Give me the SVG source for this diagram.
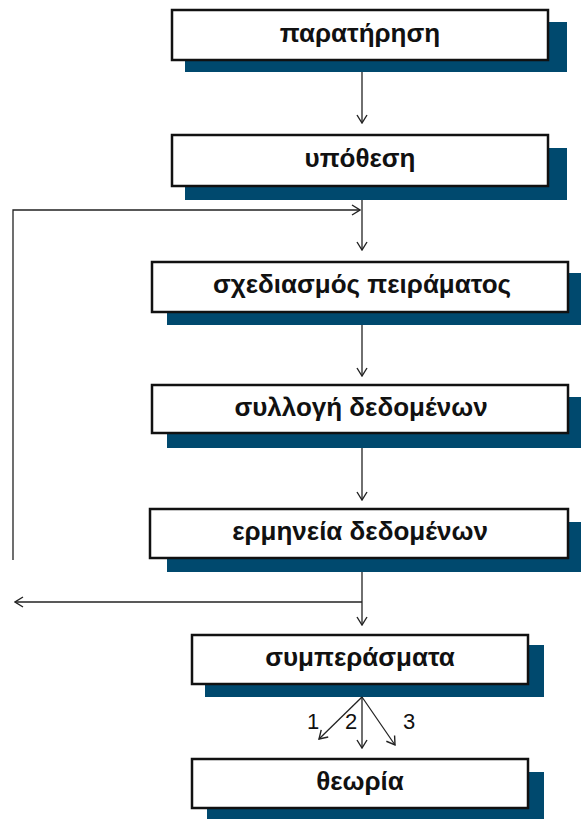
<svg xmlns="http://www.w3.org/2000/svg" width="581" height="819" viewBox="0 0 581 819">
<defs>
<style>
.box{fill:#fff;stroke:#111;stroke-width:2.5}
.sh{fill:#00496e}
.lbl{font-family:"Liberation Sans",Arial,sans-serif;font-weight:bold;font-size:26px;fill:#111;text-anchor:middle}
.num{font-family:"Liberation Sans",Arial,sans-serif;font-size:22px;fill:#111;text-anchor:middle}
.ln{fill:none;stroke:#222;stroke-width:1.3}
</style>
<marker id="ah" viewBox="0 0 10 12" refX="9" refY="6" markerWidth="10" markerHeight="12" markerUnits="userSpaceOnUse" orient="auto">
<path d="M1,1 L9,6 L1,11" fill="none" stroke="#222" stroke-width="1.4"/>
</marker>
</defs>
<rect width="581" height="819" fill="#fff"/>
<g id="n1">
<rect class="sh" x="185" y="22" width="382" height="50"/>
<rect class="box" x="172" y="10" width="376" height="50"/>
<text class="lbl" x="360" y="42">παρατήρηση</text>
</g>
<g id="n2">
<rect class="sh" x="185" y="148" width="382" height="52"/>
<rect class="box" x="172" y="135" width="376" height="51"/>
<text class="lbl" x="360" y="167">υπόθεση</text>
</g>
<g id="n3">
<rect class="sh" x="167" y="273" width="420" height="52"/>
<rect class="box" x="152" y="262" width="416" height="50"/>
<text class="lbl" x="362" y="293">σχεδιασμός πειράματος</text>
</g>
<g id="n4">
<rect class="sh" x="167" y="397" width="420" height="51"/>
<rect class="box" x="152" y="385" width="416" height="48"/>
<text class="lbl" x="361" y="416">συλλογή δεδομένων</text>
</g>
<g id="n5">
<rect class="sh" x="167" y="522" width="420" height="50"/>
<rect class="box" x="150" y="509" width="418" height="49"/>
<text class="lbl" x="360" y="540">ερμηνεία δεδομένων</text>
</g>
<g id="n6">
<rect class="sh" x="205" y="645" width="339" height="52"/>
<rect class="box" x="192" y="635" width="336" height="49"/>
<text class="lbl" x="360" y="666">συμπεράσματα</text>
</g>
<g id="n7">
<rect class="sh" x="207" y="772" width="337" height="50"/>
<rect class="box" x="192" y="759" width="336" height="49"/>
<text class="lbl" x="360" y="790">θεωρία</text>
</g>
<g id="connectors">
<line class="ln" x1="362" y1="72" x2="362" y2="123" marker-end="url(#ah)"/>
<line class="ln" x1="362" y1="200" x2="362" y2="250" marker-end="url(#ah)"/>
<polyline class="ln" points="13,560 13,210 360,210" marker-end="url(#ah)"/>
<line class="ln" x1="362" y1="325" x2="362" y2="376" marker-end="url(#ah)"/>
<line class="ln" x1="362" y1="448" x2="362" y2="500" marker-end="url(#ah)"/>
<line class="ln" x1="362" y1="572" x2="362" y2="625" marker-end="url(#ah)"/>
<line class="ln" x1="362" y1="602" x2="15" y2="602" marker-end="url(#ah)"/>
<line class="ln" x1="362" y1="697" x2="319" y2="739" marker-end="url(#ah)"/>
<line class="ln" x1="362" y1="697" x2="362" y2="748" marker-end="url(#ah)"/>
<line class="ln" x1="362" y1="697" x2="395" y2="745" marker-end="url(#ah)"/>
<text class="num" x="313" y="729">1</text>
<text class="num" x="351" y="729">2</text>
<text class="num" x="409" y="729">3</text>
</g>
</svg>
